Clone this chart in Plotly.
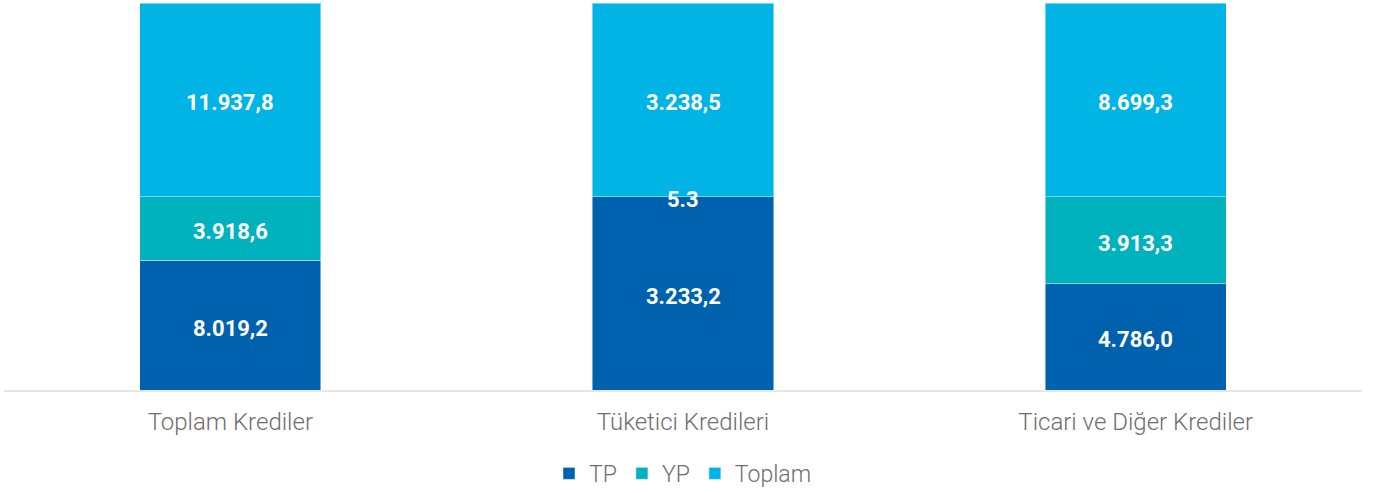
import plotly.graph_objects as go

categories = ["Toplam Krediler", "Tüketici Kredileri", "Ticari ve Diğer Krediler"]
tp_values = [8019.2, 3233.2, 4786.0]
yp_values = [3918.6, 5.3, 3913.3]
toplam_values = [11937.8, 3238.5, 8699.3]
tp_labels = ["8.019,2", "3.233,2", "4.786,0"]
yp_labels = ["3.918,6", "5.3", "3.913,3"]
toplam_labels = ["11.937,8", "3.238,5", "8.699,3"]

series = [
    ("TP", tp_values, tp_labels, "#0062AE"),
    ("YP", yp_values, yp_labels, "#00B2BD"),
    ("Toplam", toplam_values, toplam_labels, "#00B4E6"),
]

fig = go.Figure()
for name, vals, labels, color in series:
    fig.add_trace(go.Bar(
        x=categories, y=vals, name=name,
        marker=dict(color=color, line=dict(color="rgba(255,255,255,0.45)", width=1)),
        width=0.4, hoverinfo="skip",
    ))

# value labels drawn above all bars, placed at segment midpoints (percent of stack)
totals = [a + b + c for a, b, c in zip(tp_values, yp_values, toplam_values)]
annotations = []
for i, cat in enumerate(categories):
    base = 0.0
    for name, vals, labels, color in series:
        pct = vals[i] / totals[i] * 100
        annotations.append(dict(
            x=cat, y=base + pct / 2, xref="x", yref="y", text=labels[i],
            showarrow=False, yshift=-3,
            font=dict(family="Roboto", size=22, color="white", weight="bold"),
        ))
        base += pct

fig.update_layout(
    barmode="stack", barnorm="percent",
    width=1379, height=493,
    margin=dict(l=4, r=17, t=3, b=103, autoexpand=False),
    paper_bgcolor="white", plot_bgcolor="white",
    font=dict(family="Roboto", color="#6E6E6E"),
    showlegend=True,
    annotations=annotations,
    legend=dict(orientation="h", x=0.5, xanchor="center", y=-0.16, yanchor="top",
                font=dict(family="Roboto", size=23, color="#6E6E6E", weight=300),
                itemwidth=30, traceorder="normal"),
    xaxis=dict(showline=True, linecolor="#E6E6E6", linewidth=2, ticks="",
               ticklabelstandoff=9, automargin=False,
               tickfont=dict(family="Roboto", size=24, color="#6E6E6E", weight=300),
               fixedrange=True),
    yaxis=dict(visible=False, range=[0, 100], showgrid=False, automargin=False,
               fixedrange=True),
)

fig.write_html("out.html", config={"displayModeBar": False},
               post_script="document.body.style.margin='0';")
